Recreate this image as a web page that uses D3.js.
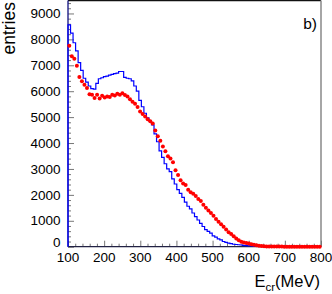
<!DOCTYPE html>
<html>
<head>
<meta charset="utf-8">
<script src="https://cdn.jsdelivr.net/npm/d3@7"></script>
<style>
  body { margin: 0; background: #fff; }
  svg { display: block; font-family: "Liberation Sans", Arial, sans-serif; }
</style>
</head>
<body>
<div id="chart"></div>
<script>
// histogram binning of the E_cr axis (MeV)
var binLow = 100;
var binWidth = 7;

// simulation, blue histogram (entries per bin)
var blueValues = [
  8560, 8240, 7870, 7560, 7100, 6800, 6500, 6350, 6200, 6100,
  6080, 6300, 6480, 6520, 6560, 6580, 6620, 6650, 6680, 6700,
  6760, 6760, 6530, 6500, 6480, 6400, 6200, 6000, 5650, 5400,
  5150, 4970, 4850, 4700, 4350, 4050, 3700, 3450, 3200, 3000,
  2900, 2620, 2420, 2200, 2060, 1900, 1720, 1560, 1460, 1300,
  1160, 1030, 900, 780, 660, 590, 520, 420, 370, 300,
  260, 200, 170, 140, 115, 95, 85, 75, 66, 55,
  42, 35, 28, 22, 17, 13, 10, 8, 6, 5,
  4, 3, 3, 2, 2, 1, 1, 1, 0, 0,
  0, 0, 0, 0, 0, 0, 0, 0, 0, 0
];

// data, red points (entries per bin)
var redValues = [
  7750, 7350, 7250, 6980, 6550, 6380, 6250, 6120, 5880, 5860,
  5740, 5860, 5720, 5820, 5760, 5800, 5780, 5860, 5830, 5900,
  5860, 5920, 5850, 5800, 5690, 5590, 5520, 5390, 5220, 5120,
  5020, 4920, 4840, 4750, 4480, 4260, 4090, 3870, 3680, 3490,
  3400, 3260, 2950, 2770, 2560, 2440, 2380, 2200, 2100, 2040,
  1960, 1840, 1760, 1620, 1500, 1400, 1300, 1190, 1070, 965,
  870, 770, 660, 560, 490, 400, 320, 250, 195, 165,
  145, 125, 95, 72, 52, 38, 26, 18, 12, 8,
  6, 5, 4, 3, 3, 2, 2, 1, 1, 1,
  1, 0, 0, 0, 0, 0, 0, 0, 0, 0
];

var xTicks = [100, 200, 300, 400, 500, 600, 700, 800];
var yTicks = [0, 1000, 2000, 3000, 4000, 5000, 6000, 7000, 8000, 9000];

(function(){
    "use strict";

    var width = 332;
    var height = 294;
    var margin = {top: 0.5, right: 11, bottom: 47.3, left: 68};

    var svg = d3.select("#chart")
        .append("svg")
        .attr("width", width)
        .attr("height", height);

    var x = d3.scaleLinear()
        .domain([100, 800])
        .range([margin.left, width - margin.right]);

    var y = d3.scaleLinear()
        .domain([0, 9500])
        .range([height - margin.bottom, margin.top]);

    var x0 = x.range()[0], x1 = x.range()[1];
    var y0 = y.range()[0], y1 = y.range()[1];

    //--------------------------------------------------------------------------
    // Frame: top black, right grey
    //--------------------------------------------------------------------------
    svg.append("line")
        .attr("x1", x0).attr("x2", x1)
        .attr("y1", y1).attr("y2", y1)
        .attr("stroke", "#111").attr("stroke-width", 1.5);
    svg.append("line")
        .attr("x1", x1).attr("x2", x1)
        .attr("y1", y1).attr("y2", y0)
        .attr("stroke", "#888").attr("stroke-width", 1.5);

    //--------------------------------------------------------------------------
    // Axes (ticks point into the frame)
    //--------------------------------------------------------------------------
    var xAxis = svg.append("g")
        .attr("transform", "translate(0," + y0 + ")")
        .call(d3.axisBottom(x)
            .tickValues(d3.range(100, 801, 20))
            .tickSize(0)
            .tickFormat(""));
    xAxis.select(".domain").remove();
    xAxis.selectAll(".tick line")
        .attr("y2", function(d) { return d % 100 === 0 ? -6 : -3; })
        .attr("stroke", "#777");

    svg.append("g")
        .selectAll("text")
        .data(xTicks)
        .enter()
        .append("text")
        .attr("x", function(d) { return x(d); })
        .attr("y", y0 + 15.5)
        .attr("text-anchor", "middle")
        .attr("font-size", 13.5)
        .attr("fill", "#000")
        .text(function(d) { return d; });

    var yAxis = svg.append("g")
        .attr("transform", "translate(" + x0 + ",0)")
        .call(d3.axisLeft(y)
            .tickValues(d3.range(0, 9401, 200))
            .tickSize(0)
            .tickFormat(""));
    yAxis.select(".domain").remove();
    yAxis.selectAll(".tick line")
        .attr("x2", function(d) { return d % 1000 === 0 ? 6 : 3; })
        .attr("stroke", "#777");

    svg.append("g")
        .selectAll("text")
        .data(yTicks)
        .enter()
        .append("text")
        .attr("x", x0 - 7.5)
        .attr("y", function(d) { return d === 0 ? y(d) : y(d) + 4.7; })
        .attr("text-anchor", "end")
        .attr("font-size", 13.5)
        .attr("fill", "#000")
        .text(function(d) { return d; });

    // axis lines
    svg.append("line")
        .attr("x1", x0).attr("x2", x1)
        .attr("y1", y0).attr("y2", y0)
        .attr("stroke", "#222244").attr("stroke-width", 1.3);
    svg.append("line")
        .attr("x1", x0).attr("x2", x0)
        .attr("y1", y1).attr("y2", y0)
        .attr("stroke", "#101080").attr("stroke-width", 1.3);

    //--------------------------------------------------------------------------
    // Blue histogram (step line)
    //--------------------------------------------------------------------------
    var steps = [[binLow, 0]];
    blueValues.forEach(function(v, i) {
        steps.push([binLow + i * binWidth, v]);
        steps.push([binLow + (i + 1) * binWidth, v]);
    });

    var line = d3.line()
        .x(function(d) { return x(d[0]); })
        .y(function(d) { return y(d[1]); });

    svg.append("path")
        .datum(steps)
        .attr("d", line)
        .attr("fill", "none")
        .attr("stroke", "#0000ff")
        .attr("stroke-width", 1.2);

    //--------------------------------------------------------------------------
    // Red points
    //--------------------------------------------------------------------------
    svg.append("g")
        .selectAll("circle")
        .data(redValues)
        .enter()
        .append("circle")
        .attr("cx", function(d, i) { return x(binLow + (i + 0.5) * binWidth); })
        .attr("cy", function(d) { return y(d); })
        .attr("r", 2)
        .attr("fill", "#ff0000");

    //--------------------------------------------------------------------------
    // Titles
    //--------------------------------------------------------------------------
    var xt = svg.append("text")
        .attr("x", x1 - 1)
        .attr("y", 287)
        .attr("text-anchor", "end")
        .attr("font-size", 16.5)
        .attr("fill", "#000");
    xt.append("tspan").text("E");
    xt.append("tspan").attr("font-size", 11.5).attr("dy", 4).text("cr");
    xt.append("tspan").attr("dy", -4).text("(MeV)");

    svg.append("text")
        .attr("transform", "translate(15,2) rotate(-90)")
        .attr("text-anchor", "end")
        .attr("font-size", 17.5)
        .attr("fill", "#000")
        .text("entries");

    svg.append("text")
        .attr("x", 317)
        .attr("y", 29)
        .attr("text-anchor", "end")
        .attr("font-size", 15.5)
        .attr("fill", "#000")
        .text("b)");
})();
</script>
</body>
</html>
